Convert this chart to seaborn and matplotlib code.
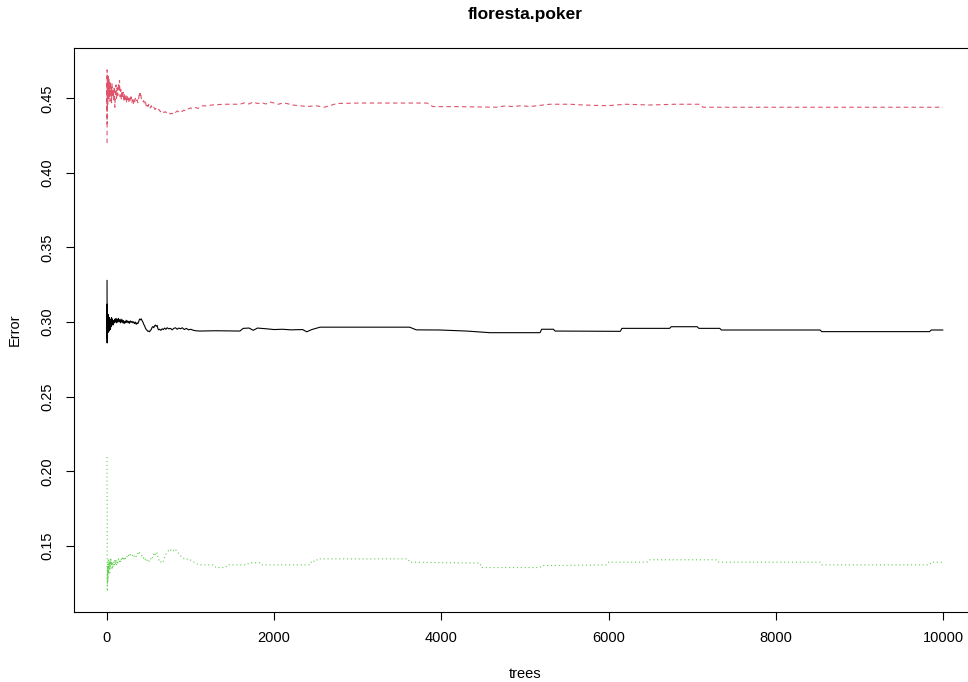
import matplotlib
matplotlib.use("Agg")
import matplotlib.pyplot as plt
import seaborn as sns

title = "floresta.poker"
xlabel = "trees"
ylabel = "Error"
xticks = [0, 2000, 4000, 6000, 8000, 10000]
yticks = [0.15, 0.20, 0.25, 0.30, 0.35, 0.40, 0.45]

# OOB error (black, solid)
trees_oob = [1, 2, 3, 4, 5, 6, 7, 8, 10, 12, 14, 16, 18, 20, 23, 26, 30, 34, 38, 42, 46, 50,
             55, 60, 66, 72, 80, 88, 95,
             100, 108, 115, 122, 130, 138, 145, 152, 160, 168, 175, 183, 190, 198, 206, 214,
             222, 230, 238, 246, 254, 262, 270, 280, 290, 300, 310, 320, 330, 340, 350, 360,
             370, 380, 390, 400, 410, 420, 430, 440, 450, 460, 470, 480, 490, 500, 510, 520,
             530, 540, 550, 560, 570, 580, 590, 600, 610, 620, 630, 645, 660, 675, 690, 705,
             720, 740, 760, 780, 800, 820, 840, 860, 880, 900, 925, 950, 975, 1000, 1030, 1060,
             1110, 1300, 1590, 1630, 1700, 1750, 1800, 1910, 2000, 2100, 2200, 2340, 2390, 2450,
             2550, 3000, 3620, 3700, 3980, 4300, 4580, 5180, 5200, 5340, 5360, 6140, 6160, 6730,
             6750, 7060, 7080, 7330, 7350, 8530, 8550, 9840, 9860, 10000]
err_oob = [0.328, 0.286, 0.312, 0.292, 0.306, 0.289, 0.301, 0.295, 0.304, 0.293, 0.302, 0.296,
           0.305, 0.297, 0.301, 0.294, 0.303, 0.298, 0.302, 0.295, 0.300, 0.297, 0.303, 0.299,
           0.302, 0.298, 0.301, 0.2995, 0.302,
           0.300, 0.3025, 0.2995, 0.302, 0.300, 0.3025, 0.3005, 0.3015, 0.2995, 0.302, 0.300,
           0.3015, 0.2995, 0.301, 0.299, 0.3005, 0.2995, 0.3012, 0.2998, 0.3008, 0.2995,
           0.3005, 0.2992, 0.3008, 0.2998, 0.3005, 0.2995, 0.3002, 0.299, 0.300, 0.2985,
           0.2995, 0.299, 0.3005, 0.302, 0.3015, 0.3022, 0.301, 0.300, 0.2985, 0.2975, 0.296,
           0.295, 0.2945, 0.2938, 0.294, 0.2935, 0.2945, 0.295, 0.2965, 0.297, 0.2962, 0.2975,
           0.298, 0.2972, 0.2978, 0.2955, 0.2948, 0.2952, 0.2945, 0.2955, 0.295, 0.296,
           0.2952, 0.2962, 0.2955, 0.2958, 0.2948, 0.2958, 0.2962, 0.2952, 0.296, 0.2955,
           0.2962, 0.295, 0.2958, 0.2948, 0.2952, 0.2946, 0.2942,
           0.2940, 0.2942, 0.2940, 0.2958, 0.2960, 0.2945, 0.2960, 0.2955, 0.2950, 0.2952,
           0.2948, 0.2950, 0.2935, 0.2950, 0.2966, 0.2966, 0.2966, 0.2948, 0.2947, 0.2940,
           0.2929, 0.2929, 0.2952, 0.2952, 0.2940, 0.2938, 0.2958, 0.2958, 0.2969, 0.2969,
           0.2958, 0.2958, 0.2947, 0.2947, 0.2936, 0.2936, 0.2947, 0.2947]

# class 1 error (red, dashed)
trees_c1 = [1, 2, 3, 4, 5, 6, 7, 8, 10, 12, 14, 16, 18, 20, 23, 26, 30, 34, 38, 42, 46, 50, 55,
            60, 66, 72, 80, 88, 95,
            100, 108, 115, 122, 130, 138, 145, 150, 158, 165, 172, 180, 188, 195, 203, 210, 218,
            225, 233, 240, 248, 256, 264, 272, 280, 288, 296, 305, 313, 322, 330, 340, 350, 360,
            370, 380, 388, 395, 402, 410, 420, 430, 440, 450, 460, 470, 480, 490, 500, 515, 530,
            545, 560, 575, 590, 605, 620, 640, 660, 680, 700, 720, 740, 760, 780, 800, 820, 840,
            860, 880, 900, 920, 945, 970, 1000, 1030, 1060, 1090, 1120, 1150, 1200, 1250,
            1400, 1590, 1650, 1700, 1750, 1800, 1850, 1900, 1950, 2000, 2050, 2100, 2150, 2220,
            2300, 2400, 2500, 2600, 2750, 3000, 3300, 3600, 3830, 3900, 4200, 4665, 4750, 4850,
            4950, 5060, 5300, 5540, 5700, 5980, 6200, 6500, 6800, 7090, 7130, 8000, 9000, 10000]
err_c1 = [0.420, 0.469, 0.433, 0.460, 0.442, 0.465, 0.450, 0.458, 0.446, 0.462, 0.452, 0.466,
          0.455, 0.460, 0.449, 0.463, 0.454, 0.459, 0.448, 0.461, 0.452, 0.457, 0.447, 0.460,
          0.451, 0.456, 0.449, 0.458, 0.444,
          0.453, 0.459, 0.450, 0.457, 0.452, 0.460, 0.455, 0.462, 0.451, 0.456, 0.449, 0.455,
          0.450, 0.454, 0.448, 0.453, 0.449, 0.452, 0.447, 0.452, 0.449, 0.451, 0.447, 0.450,
          0.448, 0.451, 0.447, 0.449, 0.446, 0.449, 0.447, 0.450, 0.448, 0.449, 0.447, 0.450,
          0.454, 0.452, 0.454, 0.450, 0.449, 0.4475, 0.4485, 0.446, 0.4475, 0.445, 0.4465,
          0.4445, 0.446, 0.4435, 0.445, 0.443, 0.444, 0.4425, 0.4435, 0.442, 0.4425, 0.441,
          0.442, 0.4405, 0.441, 0.4398, 0.4405, 0.4395, 0.440, 0.4392, 0.4405, 0.4415, 0.441,
          0.442, 0.4412, 0.442, 0.4415, 0.4428, 0.4435, 0.443, 0.4438, 0.4432, 0.4445, 0.445,
          0.4448, 0.4455,
          0.446, 0.446, 0.447, 0.4462, 0.4475, 0.4465, 0.4470, 0.4462, 0.4475, 0.4468, 0.446,
          0.4468, 0.4465, 0.4455, 0.445, 0.4445, 0.445, 0.444, 0.4465, 0.4468, 0.4468, 0.4468,
          0.4468, 0.4444, 0.4444, 0.444, 0.4448, 0.4445, 0.445, 0.4445, 0.446, 0.446, 0.4455,
          0.445, 0.446, 0.4455, 0.446, 0.446, 0.444, 0.444, 0.444, 0.444]

# class 2 error (green, dotted)
trees_c2 = [1, 2, 3, 4, 5, 6, 7, 8, 10, 12, 14, 16, 18, 20, 23, 26, 30, 34, 38, 42, 46, 50, 55,
            60, 66, 72, 80, 88, 95,
            100, 108, 115, 122, 130, 138, 145, 152, 160, 168, 175, 183, 190, 198, 206, 214, 222,
            230, 240, 250, 260, 270, 280, 290, 300, 310, 320, 330, 340, 350, 360, 370, 380, 390,
            400, 410, 420, 430, 440, 450, 460, 470, 480, 490, 500, 510, 520, 530, 540, 550, 560,
            570, 580, 590, 600, 610, 620, 630, 645, 660, 675, 690, 705, 720, 735, 750, 765, 780,
            795, 810, 825, 840, 855, 870, 885, 900, 920, 940, 960, 980, 1000, 1030, 1060,
            1100, 1280, 1300, 1420, 1440, 1670, 1700, 1830, 1850, 2430, 2450, 2500, 2520, 3600,
            3620, 3980, 4460, 4480, 5180, 5200, 5580, 5980, 6000, 6460, 6480, 7300, 7320, 8530,
            8550, 9840, 9860, 10000]
err_c2 = [0.2095, 0.165, 0.135, 0.1195, 0.131, 0.124, 0.137, 0.128, 0.135, 0.1265, 0.140, 0.131,
          0.138, 0.133, 0.141, 0.1345, 0.139, 0.132, 0.1405, 0.136, 0.142, 0.137, 0.1395, 0.134,
          0.1385, 0.1355, 0.1395, 0.137, 0.141,
          0.1375, 0.1405, 0.137, 0.140, 0.1385, 0.1412, 0.1392, 0.1408, 0.1395, 0.1415, 0.140,
          0.1418, 0.1405, 0.1428, 0.1412, 0.1425, 0.1415, 0.1432, 0.143, 0.1422, 0.1438,
          0.1428, 0.1442, 0.1435, 0.1428, 0.1445, 0.1438, 0.1425, 0.1435, 0.1428, 0.1442,
          0.1450, 0.1440, 0.1455, 0.1448, 0.1440, 0.1428, 0.1415, 0.1420, 0.1405, 0.1412,
          0.1398, 0.1405, 0.1392, 0.1400, 0.1395, 0.1405, 0.1420, 0.1412, 0.1435, 0.1445,
          0.1432, 0.1450, 0.1442, 0.1453, 0.1425, 0.1405, 0.1410, 0.1392, 0.1385, 0.1398,
          0.1425, 0.1445, 0.1458, 0.1468, 0.1460, 0.1473, 0.1465, 0.1470, 0.1460, 0.1472,
          0.1465, 0.1452, 0.1445, 0.1432, 0.1422, 0.1415, 0.1408, 0.1412, 0.1402, 0.1405,
          0.1395, 0.1385,
          0.1373, 0.1373, 0.1355, 0.1355, 0.1373, 0.1373, 0.1387, 0.1387, 0.1373, 0.1373,
          0.1400, 0.1395, 0.1413, 0.1413, 0.1391, 0.1388, 0.1385, 0.1355, 0.1355, 0.1368,
          0.1370, 0.1373, 0.1391, 0.1391, 0.1407, 0.1407, 0.1391, 0.1391, 0.1373, 0.1373,
          0.1391, 0.1391]

sns.set_style("white")
plt.rcParams['font.family'] = ['Liberation Sans', 'DejaVu Sans']

W, H = 968, 682
fig = plt.figure(figsize=(W / 100, H / 100), dpi=100)
left, right, top, bottom = 73.6, 976.4, 48, 612
ax = fig.add_axes([left / W, 1 - bottom / H, (right - left) / W, (bottom - top) / H])

lw = 0.8
sns.lineplot(x=trees_oob, y=err_oob, ax=ax, color="#000000", linewidth=lw,
             estimator=None, sort=False)
sns.lineplot(x=trees_c1, y=err_c1, ax=ax, color="#DF536B", linewidth=lw,
             estimator=None, sort=False)
ax.lines[-1].set_dashes((4, 3))
sns.lineplot(x=trees_c2, y=err_c2, ax=ax, color="#61D04F", linewidth=lw,
             estimator=None, sort=False)
ax.lines[-1].set_dashes((1, 2.5))

ax.set_xlim(-399, 10400)
ax.set_ylim(0.1057, 0.4837)
ax.set_xticks(xticks)
ax.set_xticklabels([str(t) for t in xticks])
ax.set_yticks(yticks)
ax.set_yticklabels([f"{t:.2f}" for t in yticks], rotation=90, va="center")

for s in ax.spines.values():
    s.set_visible(True)
    s.set_color("black")
    s.set_linewidth(0.8)

ax.tick_params(axis="both", which="major", direction="out", length=6, width=0.8,
               color="black", labelsize=10.5, labelcolor="black", left=True, bottom=True)
ax.tick_params(axis="x", pad=8)
ax.tick_params(axis="y", pad=8)

ax.set_xlabel(xlabel, fontsize=10.5, color="black")
ax.xaxis.set_label_coords(0.5, -0.0975)
ax.set_ylabel(ylabel, fontsize=10.5, color="black")
ax.yaxis.set_label_coords(-0.057, 0.5)

fig.text(525 / W, 1 - 14 / H, title, ha="center", va="center", fontsize=12.5,
         fontweight="bold", color="black")

fig.savefig("out.png", dpi=100, facecolor="white")
